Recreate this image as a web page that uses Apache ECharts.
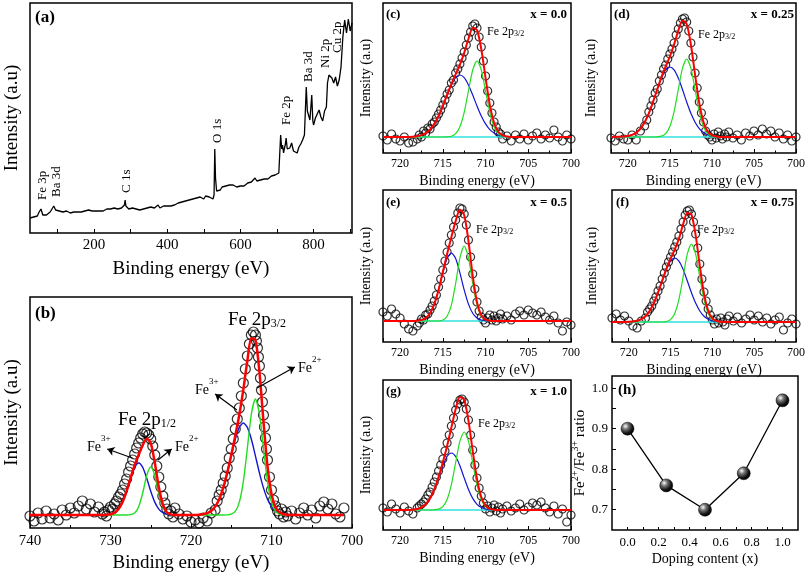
<!DOCTYPE html>
<html><head><meta charset="utf-8">
<script src="https://cdn.jsdelivr.net/npm/echarts@6/dist/echarts.min.js"></script>
<style>html,body{margin:0;padding:0;background:#fff}#c{width:808px;height:578px}</style>
</head><body><div id="c"></div>
<script>
// ---------------- DATA ----------------
// (a) survey spectrum: [binding energy, intensity]
const surveyA = [[25,15],[30,14],[35,16],[40,15],[45,17],[50,21],[55,24],[60,18],[65,19],[70,18],[75,20],[80,21],[85,24],[90,27],[95,23],[100,21],[105,22],[110,20],[115,21],[120,20],[125,22],[130,21],[135,20],[140,22],[145,21],[150,23],[155,21],[160,22],[165,21],[170,23],[175,22],[180,21],[185,23],[190,22],[195,22],[200,23],[205,22],[210,23],[215,22],[220,24],[225,22],[230,23],[235,24],[240,22],[245,24],[250,23],[255,25],[260,23],[265,24],[270,23],[275,25],[280,26],[283,28],[285,33],[287,27],[290,25],[295,24],[300,23],[305,25],[310,23],[315,24],[320,24],[325,23],[330,25],[335,24],[340,23],[345,25],[350,24],[355,26],[360,24],[365,25],[370,26],[375,28],[380,25],[385,26],[390,27],[395,26],[400,27],[405,28],[410,27],[415,29],[420,28],[425,29],[430,30],[435,29],[440,31],[445,30],[450,32],[455,31],[460,33],[465,32],[470,34],[475,33],[480,35],[485,33],[490,36],[495,35],[500,34],[505,37],[510,35],[515,36],[520,38],[525,34],[528,38],[530,84],[532,55],[535,42],[540,44],[545,43],[550,46],[555,45],[560,47],[565,46],[570,48],[575,46],[580,48],[585,47],[590,46],[595,48],[600,47],[605,49],[610,47],[615,48],[620,50],[625,49],[630,51],[635,53],[640,55],[645,52],[650,54],[655,53],[660,55],[665,54],[670,56],[675,54],[680,55],[685,57],[690,56],[695,58],[700,57],[705,60],[708,62],[710,98],[713,84],[715,88],[718,80],[720,84],[723,89],[725,95],[728,84],[730,86],[735,85],[740,90],[745,82],[750,84],[755,80],[760,86],[765,89],[770,93],[775,98],[778,100],[780,146],[783,122],[785,120],[790,113],[793,115],[795,138],[798,112],[800,108],[805,115],[810,117],[815,123],[820,116],[825,112],[830,122],[835,126],[838,150],[842,158],[845,160],[850,155],[855,150],[860,156],[865,147],[870,153],[875,166],[880,196],[885,213],[888,205],[890,200],[895,214],[900,202],[905,210]];
const surveyTickLabels = [200, 400, 600, 800];
const surveyTicks = [100, 200, 300, 400, 500, 600, 700, 800, 900];

// (b) Fe 2p high resolution
const energyB_circ = [740,739.5,739,738.5,738,737.5,737,736.5,736,735.5,735,734.5,734,733.5,733,732.5,732,731.5,731,
730.75,730.5,730.25,730,729.75,729.5,729.25,729,728.75,728.5,728.25,728,727.75,727.5,727.25,727,726.75,726.5,726.25,726,725.75,725.5,725.25,725,724.75,724.5,724.25,724,723.75,723.5,723.25,723,722.75,722.5,722.25,
722,721.5,721,720.5,720,719.5,719,718.5,718,717.5,717,
716.75,716.5,716.25,716,715.75,715.5,715.25,715,714.75,714.5,714.25,714,713.75,713.5,713.25,713,712.75,712.5,712.25,712,711.875,711.75,711.625,711.5,711.375,711.25,711.125,711,710.875,710.75,710.625,710.5,710.25,710,709.75,709.5,709.25,709,708.75,708.5,708.25,
708,707.5,707,706.5,706,705.5,705,704.5,704,703.5,703,702.5,702,701.5,701];
const intensityB_circ = [12,7,15,9,17,10,14,8,18,13,20,15,22,27,19,24,16,21,14,
16,12,18,21,19,24,27,31,34,38,44,49,56,62,68,74,80,85,90,94,96,95,93,89,82,73,62,51,41,32,25,19,14,17,11,
20,14,9,12,6,8,5,10,7,15,18,
27,33,38,45,52,60,70,79,89,99,109,120,132,145,159,172,184,193,196,193,187,180,171,162,150,138,126,113,101,90,79,68,51,38,28,22,17,14,19,11,16,
12,17,9,15,20,13,18,10,22,26,19,24,14,11,20];
const energyB_fit = [740,731.5,731,730.5,730,729.5,729,728.5,728,727.5,727,726.5,726,725.5,725,724.5,724,723.5,723,722.5,722,721.5,721,720.5,720,719.5,719,718.5,718,717.5,717,716.5,716,715.5,715,714.5,714,713.5,713,712.5,712,711.5,711,710.5,710,709.5,709,708.5,708,707.5,707,701];
const redB = [13,13,13,13.2,13.7,15.3,18.9,25.9,36.8,50.2, 62.8,73.3,82.7,89.3,84.8,65.4,40.9,23.6,15.8,13.6, 13,13,13,13,13,13,13.2,13.7,14.8,17, 21.4,28.8,40.1,55.2,73,92.3,113.2,138.3,167.3,189.7, 188.2,156.1,106.8,62.1,34,20.6,15.6,13.8,13.2,13.1, 13,13];
const blueB = [13,13,13,13.2,13.7,15.3,18.9,25.9,36.8,49.8, 60.7,65,60.7,49.8,36.8,25.9,18.9,15.3,13.7,13.2, 13,13,13,13,13,13,13.2,13.7,14.8,17, 21.4,28.8,40.1,55.1,72.2,88.7,100.6,105,100.6,88.7, 72.2,55.1,40.1,28.8,21.4,17,14.8,13.7,13.2,13.1, 13,13];
const greenB = [13,13,13,13,13,13,13,13,13,13.4, 15.1,21.3,35,52.5,61,52.5,35,21.3,15.1,13.4, 13,13,13,13,13,13,13,13,13,13, 13,13,13,13.1,13.8,16.6,25.6,46.3,79.7,114, 129,114,79.7,46.3,25.6,16.6,13.8,13.1,13,13, 13,13];

// (c)-(g) Fe 2p3/2 for each doping level
const energyCG_circ = [722,721.5,721,720.5,720,719.5,719,718.5,718, 717.75,717.5,717.25,717,716.75,716.5,716.25,716,715.75,715.5, 715.25,715,714.75,714.5,714.25,714,713.75,713.5,713.25,713, 712.75,712.5,712.25,712,711.75,711.5,711.25,711,710.75,710.5, 710.25,710,709.75,709.5,709.25,709,708.75,708.5,708.25, 708,707.5,707,706.5,706,705.5,705,704.5,704,703.5,703,702.5,702,701.5,701,700.5,700];
const energyCG_fit = [722,720.5,720,719.5,719,718.5,718,717.5,717,716.5,716,715.5,715,714.5,714,713.5,713,712.5,712,711.5,711,710.5,710,709.5,709,708.5,708,707.5,707,706,700];

const circC = [17,13,19,14,12,16,10,11,14, 18,16,22,20,25,24,29,31,35,39, 43,48,53,59,63,70,73,80,84,89, 95,101,108,115,121,127,129,125,116,106, 92,77,62,50,40,31,26,21,19, 14,17,12,18,14,19,13,17,20,14,18,15,23,16,12,18,14];
const redC = [16,16,16,16,16.1,16.3,16.8,17.9,19.9,23.4,29.1,37,47,58.2,68.9,78.7,88.3,100.1,114.2,125,123,104,75.2,48.1,30.2,21.2,17.6,16.5,16.1,16,16];
const blueC = [16,16,16,16,16.1,16.3,16.8,17.9,19.9,23.4,29.1,37,47,58,68.1,75.4,78,75.4,68.1,58,47,37,29.1,23.4,19.9,17.9,16.8,16.3,16.1,16,16];
const greenC = [16,16,16,16,16,16,16,16,16,16,16,16,16,16.2,16.8,19.3,26.3,40.7,62.1,83,92,83,62.1,40.7,26.3,19.3,16.8,16.2,16,16,16];
const baseC = 16;

const circD = [15,12,17,14,13,18,13,22,27, 33,41,47,53,60,64,72,78,84,88, 94,99,104,110,118,124,130,134,135,131, 122,110,96,80,65,51,40,31,22,18, 16,13,19,15,21,17,14,19,16, 21,15,18,13,20,17,22,18,24,19,22,16,20,14,18,12,16];
const redD = [16,16.4,16.9,18.1,20.4,24.4,30.8,39.7,51,63.7,75.8,86.5,96.5,108.5,122.2,132.3,129,108.5,78.1,49.8,30.9,21.5,17.8,16.6,16.1,16,16,16,16,16,16];
const blueD = [16,16.4,16.9,18.1,20.4,24.4,30.8,39.7,51,63.5,74.9,83.1,86,83.1,74.9,63.5,51,39.7,30.8,24.4,20.4,18.1,16.9,16.4,16.1,16,16,16,16,16,16];
const greenD = [16,16,16,16,16,16,16,16,16,16.2,16.9,19.4,26.5,41.4,63.3,84.8,94,84.8,63.3,41.4,26.5,19.4,16.9,16.2,16,16,16,16,16,16,16];
const baseD = 16;

const circE = [30,26,33,28,24,18,13,11,16, 19,23,22,27,28,32,36,41,47,55, 63,72,81,90,99,107,115,122,129,134, 133,128,117,102,85,68,53,40,31,25, 22,19,24,27,22,26,21,24,28, 23,26,22,28,31,27,32,29,27,30,25,22,26,19,11,20,17];
const redE = [21,21,21,21,21,21,21.3,22,24,28.8,37.9,52.1,70.1,88.1,104.8,120.9,132.2,127.1,101,66.3,39.8,26.7,22.3,21.2,21,21,21,21,21,21,21];
const blueE = [21,21,21,21,21,21,21.3,22,24,28.8,37.9,52.1,69.1,83.4,89,83.4,69.1,52.1,37.9,28.8,24,22,21.3,21,21,21,21,21,21,21,21];
const greenE = [21,21,21,21,21,21,21,21,21,21,21,21,22,25.7,36.8,58.5,84.1,96,84.1,58.5,36.8,25.7,22,21.2,21,21,21,21,21,21,21];
const baseE = 21;

const circF = [24,28,22,26,21,16,14,21,24, 30,33,36,41,45,51,56,63,69,75, 80,85,90,95,100,106,113,120,127,131, 132,128,120,108,94,78,63,50,41,33, 27,22,18,23,19,24,20,17,23, 26,21,25,19,23,27,22,26,20,24,18,22,25,12,19,23,18];
const redF = [20,20,20.2,20.5,21.2,22.8,25.8,31,38.9,49.3,61.2,73.2,83.3,92.5,103.3,117.6,129.1,127.3,106.8,75.9,48.2,31.3,23.6,21,20.3,20,20,20,20,20,20];
const blueF = [20,20,20.2,20.5,21.2,22.8,25.8,31,38.9,49.3,61.2,72.7,80.9,84,80.9,72.7,61.2,49.3,38.9,31,25.8,22.8,21.2,20.5,20.2,20,20,20,20,20,20];
const greenF = [20,20,20,20,20,20,20,20,20,20,20,20.5,22.4,28.5,42.4,64.9,87.9,98,87.9,64.9,42.4,28.5,22.4,20.5,20.1,20,20,20,20,20,20];
const baseF = 20;

const circG = [22,18,26,21,17,23,19,16,22, 24,26,28,31,35,38,43,48,53,59, 65,71,79,87,95,104,112,120,126,130, 131,128,121,110,95,80,65,52,42,34, 27,21,24,18,22,25,19,23,17, 21,24,19,22,26,20,23,27,25,28,22,18,24,16,21,8,15];
const redG = [20,20,20,20,20,20.3,21,22.5,25.7,31.6,40.7,53,67.6,84,102.4,120.8,133,130.1,109.3,78.9,51.1,33,24.4,21.2,20.3,20,20,20,20,20,20];
const blueG = [20,20,20,20,20,20.3,21,22.5,25.7,31.6,40.5,52.1,64.2,73.5,77,73.5,64.2,52.1,40.5,31.6,25.7,22.5,21,20.3,20.1,20,20,20,20,20,20];
const greenG = [20,20,20,20,20,20,20,20,20,20,20.2,20.9,23.4,30.5,45.4,67.3,88.8,98,88.8,67.3,45.4,30.5,23.4,20.9,20.2,20,20,20,20,20,20];
const baseG = 20;

const energyTicksCG = [700, 705, 710, 715, 720];

// (h) Fe2+/Fe3+ ratio vs doping
const dopingX = [0.0, 0.25, 0.5, 0.75, 1.0];
const ratioY = [0.90, 0.76, 0.70, 0.79, 0.97];
const dopingLabels = [0, 0.2, 0.4, 0.6, 0.8, 1.0];
const dopingTicks = [0, 0.1, 0.2, 0.3, 0.4, 0.5, 0.6, 0.7, 0.8, 0.9, 1.0];
const ratioLabels = [0.7, 0.8, 0.9, 1.0];
const ratioTicks = [0.7, 0.75, 0.8, 0.85, 0.9, 0.95, 1.0];

// ---------------- CHART ----------------
const SERIF = 'Liberation Serif';
const RED = '#ff0000', BLUE = '#1414d2', GREEN = '#22dd22', CYAN = '#2fe0e0';
function zip(xs, ys) { return xs.map((x, i) => [x, ys[i]]); }

const grids = [
  {left: 30, top: 3, width: 322, height: 230},
  {left: 30, top: 297, width: 322, height: 231},
  {left: 383, top: 3, width: 188, height: 150},
  {left: 611, top: 3, width: 187, height: 150},
  {left: 383, top: 190, width: 188, height: 152},
  {left: 612, top: 190, width: 186, height: 152},
  {left: 383, top: 380, width: 188, height: 150},
  {left: 612, top: 376, width: 186, height: 154}
].map(g => Object.assign({show: true, borderColor: '#000', borderWidth: 1.5, backgroundColor: 'transparent', containLabel: false}, g));

const tickStyle = {color: '#000', width: 1};
const labelBase = {color: '#000', fontFamily: SERIF};
const noLine = {show: false, onZero: false};

function xSmall(gi) {
  return {type: 'value', gridIndex: gi, min: 700, max: 722, interval: 5, inverse: true,
    axisLine: noLine,
    axisTick: {show: true, inside: true, length: 4, lineStyle: tickStyle},
    minorTick: {show: true, splitNumber: 2, length: 2.5, lineStyle: tickStyle},
    splitLine: {show: false}, minorSplitLine: {show: false},
    axisLabel: Object.assign({fontSize: 12, margin: 5, formatter: v => (energyTicksCG.indexOf(v) >= 0 ? String(v) : '')}, labelBase),
    name: 'Binding energy (eV)', nameLocation: 'middle', nameGap: 21,
    nameTextStyle: {color: '#000', fontFamily: SERIF, fontSize: 14}};
}
function yInt(gi, max, gap, fs) {
  return {type: 'value', gridIndex: gi, min: 0, max: max,
    axisLine: noLine, axisTick: {show: false}, axisLabel: {show: false}, splitLine: {show: false},
    name: 'Intensity (a.u)', nameLocation: 'middle', nameGap: gap, nameRotate: 90,
    nameTextStyle: {color: '#000', fontFamily: SERIF, fontSize: fs}};
}

const xAxes = [
  {type: 'value', gridIndex: 0, min: 25, max: 905,
    axisLine: noLine,
    axisTick: {show: true, inside: true, length: 4, lineStyle: tickStyle, customValues: surveyTicks},
    splitLine: {show: false},
    axisLabel: Object.assign({fontSize: 15, margin: 5, customValues: surveyTickLabels}, labelBase),
    name: 'Binding energy (eV)', nameLocation: 'middle', nameGap: 27,
    nameTextStyle: {color: '#000', fontFamily: SERIF, fontSize: 19}},
  {type: 'value', gridIndex: 1, min: 700, max: 740, interval: 10, inverse: true,
    axisLine: noLine,
    axisTick: {show: true, inside: true, length: 4, lineStyle: tickStyle},
    minorTick: {show: true, splitNumber: 2, length: 3, lineStyle: tickStyle},
    splitLine: {show: false}, minorSplitLine: {show: false},
    axisLabel: Object.assign({fontSize: 15, margin: 6}, labelBase),
    name: 'Binding energy (eV)', nameLocation: 'middle', nameGap: 26,
    nameTextStyle: {color: '#000', fontFamily: SERIF, fontSize: 19}},
  xSmall(2), xSmall(3), xSmall(4), xSmall(5), xSmall(6),
  {type: 'value', gridIndex: 7, min: -0.1, max: 1.1,
    axisLine: noLine,
    axisTick: {show: true, inside: true, length: 3, lineStyle: tickStyle, customValues: dopingTicks},
    splitLine: {show: false},
    axisLabel: Object.assign({fontSize: 13, margin: 6, customValues: dopingLabels, formatter: v => Number(v).toFixed(1)}, labelBase),
    name: 'Doping content (x)', nameLocation: 'middle', nameGap: 22,
    nameTextStyle: {color: '#000', fontFamily: SERIF, fontSize: 14}}
];

const yAxes = [
  yInt(0, 230, 8, 19), yInt(1, 231, 8, 19),
  yInt(2, 150, 10, 14), yInt(3, 150, 13, 14), yInt(4, 152, 10, 14), yInt(5, 152, 13, 14), yInt(6, 150, 10, 14),
  {type: 'value', gridIndex: 7, min: 0.65, max: 1.03,
    axisLine: noLine,
    axisTick: {show: true, inside: true, length: 4, lineStyle: tickStyle, customValues: ratioTicks},
    splitLine: {show: false},
    axisLabel: Object.assign({fontSize: 13, margin: 4, customValues: ratioLabels, formatter: v => Number(v).toFixed(1)}, labelBase),
    name: '{b|Fe}{s|2+}{b|/Fe}{s|3+}{b| ratio}', nameLocation: 'middle', nameGap: 22, nameRotate: 90,
    nameTextStyle: {color: '#000', fontFamily: SERIF, fontSize: 15,
      rich: {b: {fontFamily: SERIF, fontSize: 15, color: '#000', lineHeight: 17, verticalAlign: 'bottom'},
             s: {fontFamily: SERIF, fontSize: 10, color: '#000', lineHeight: 8, verticalAlign: 'top'}}}}
];

function circles(gi, data, size) {
  return {type: 'scatter', xAxisIndex: gi, yAxisIndex: gi, data: data, symbol: 'circle', symbolSize: size,
    itemStyle: {color: 'rgba(255,255,255,0)', borderColor: '#000', borderWidth: 1.2}, silent: true};
}
function fitLine(gi, data, color, width) {
  return {type: 'line', xAxisIndex: gi, yAxisIndex: gi, data: data, showSymbol: false, smooth: 0.25,
    lineStyle: {color: color, width: width}, silent: true};
}
function smallPanel(gi, circ, red, blue, green, base) {
  return [
    circles(gi, zip(energyCG_circ, circ), 8),
    fitLine(gi, [[energyCG_fit[0], base], [energyCG_fit[energyCG_fit.length - 1], base]], CYAN, 1.3),
    fitLine(gi, zip(energyCG_fit, blue), BLUE, 1.2),
    fitLine(gi, zip(energyCG_fit, green), GREEN, 1.2),
    fitLine(gi, zip(energyCG_fit, red), RED, 2)
  ];
}

const arrowLines = [
  [{coord: [714.3, 118]}, {coord: [717.0, 134]}],
  [{coord: [711.8, 140]}, {coord: [707.1, 161]}],
  [{coord: [727.3, 70]}, {coord: [730.4, 79]}],
  [{coord: [724.1, 68]}, {coord: [722.4, 79]}]
];

const redBSeries = fitLine(1, zip(energyB_fit, redB), RED, 2.5);
redBSeries.markLine = {silent: true, symbol: ['none', 'arrow'], symbolSize: 7, animation: false,
  lineStyle: {color: '#000', width: 1.2, type: 'solid'}, label: {show: false}, data: arrowLines};

const series = [
  {type: 'line', xAxisIndex: 0, yAxisIndex: 0, data: surveyA, showSymbol: false, lineStyle: {color: '#000', width: 1.3}, silent: true},
  circles(1, zip(energyB_circ, intensityB_circ), 10),
  fitLine(1, zip(energyB_fit, blueB), BLUE, 1.4),
  fitLine(1, zip(energyB_fit, greenB), GREEN, 1.4),
  redBSeries
].concat(
  smallPanel(2, circC, redC, blueC, greenC, baseC),
  smallPanel(3, circD, redD, blueD, greenD, baseD),
  smallPanel(4, circE, redE, blueE, greenE, baseE),
  smallPanel(5, circF, redF, blueF, greenF, baseF),
  smallPanel(6, circG, redG, blueG, greenG, baseG),
  [{type: 'line', xAxisIndex: 7, yAxisIndex: 7, data: zip(dopingX, ratioY), symbol: 'circle', symbolSize: 13,
    lineStyle: {color: '#000', width: 1.3},
    itemStyle: {color: {type: 'radial', x: 0.35, y: 0.32, r: 0.75,
      colorStops: [{offset: 0, color: '#ffffff'}, {offset: 0.3, color: '#777'}, {offset: 0.7, color: '#111'}, {offset: 1, color: '#000'}]},
      borderColor: '#000', borderWidth: 0.5}, silent: true}]
);

// ---- text annotations ----
function T(x, y, text, st, extra) {
  const style = Object.assign({text: text, fill: '#000', fontFamily: SERIF, fontSize: 13,
    textAlign: 'left', align: 'left', textVerticalAlign: 'middle', verticalAlign: 'middle'}, st || {});
  return Object.assign({type: 'text', x: x, y: y, z: 100, silent: true, style: style}, extra || {});
}
function rot(x, y, text) { return T(x, y, text, {fontSize: 13}, {rotation: Math.PI / 2}); }
const bold13 = {fontWeight: 'bold', fontSize: 13};
const right13 = {fontWeight: 'bold', fontSize: 13, textAlign: 'right', align: 'right'};
function subText(x, y, main, sub, fs, sfs) {
  return T(x, y, '{b|' + main + '}{s|' + sub + '}', {rich: {
    b: {fontFamily: SERIF, fontSize: fs, fill: '#000', color: '#000', lineHeight: Math.round(fs * 1.3), verticalAlign: 'bottom'},
    s: {fontFamily: SERIF, fontSize: sfs, fill: '#000', color: '#000', lineHeight: sfs, verticalAlign: 'bottom'}}});
}
function supText(x, y, main, sup, fs, sfs) {
  return T(x, y, '{b|' + main + '}{s|' + sup + '}', {rich: {
    b: {fontFamily: SERIF, fontSize: fs, fill: '#000', color: '#000', lineHeight: Math.round(fs * 1.4), verticalAlign: 'bottom'},
    s: {fontFamily: SERIF, fontSize: sfs, fill: '#000', color: '#000', lineHeight: sfs, verticalAlign: 'top'}}});
}

const graphics = [
  T(35, 18, '(a)', {fontWeight: 'bold', fontSize: 17}),
  T(35, 314, '(b)', {fontWeight: 'bold', fontSize: 17}),
  rot(43, 200, 'Fe 3p'), rot(57, 197, 'Ba 3d'), rot(127, 193, 'C 1s'), rot(218, 143, 'O 1s'),
  rot(287, 125, 'Fe 2p'), rot(309, 82, 'Ba 3d'), rot(326, 68, 'Ni 2p'), rot(338, 53, 'Cu 2p'),
  subText(228, 317, 'Fe 2p', '3/2', 19, 12),
  subText(118, 417, 'Fe 2p', '1/2', 19, 12),
  supText(195, 387, 'Fe', '3+', 14, 9),
  supText(298, 365, 'Fe', '2+', 14, 9),
  supText(87, 444, 'Fe', '3+', 14, 9),
  supText(175, 444, 'Fe', '2+', 14, 9),
  T(386, 15, '(c)', bold13), T(567, 15, 'x = 0.0', right13),
  T(614, 15, '(d)', bold13), T(794, 15, 'x = 0.25', right13),
  T(386, 203, '(e)', bold13), T(567, 203, 'x = 0.5', right13),
  T(616, 203, '(f)', bold13), T(794, 203, 'x = 0.75', right13),
  T(386, 392, '(g)', bold13), T(567, 392, 'x = 1.0', right13),
  T(618, 390, '(h)', {fontWeight: 'bold', fontSize: 15}),
  subText(487, 30, 'Fe 2p', '3/2', 12, 8),
  subText(698, 33, 'Fe 2p', '3/2', 12, 8),
  subText(476, 228, 'Fe 2p', '3/2', 12, 8),
  subText(697, 228, 'Fe 2p', '3/2', 12, 8),
  subText(478, 422, 'Fe 2p', '3/2', 12, 8)
];

const chart = echarts.init(document.getElementById('c'), null, {renderer: 'canvas'});
chart.setOption({
  backgroundColor: '#fff', animation: false,
  grid: grids, xAxis: xAxes, yAxis: yAxes, series: series, graphic: {elements: graphics}
});
</script></body></html>
